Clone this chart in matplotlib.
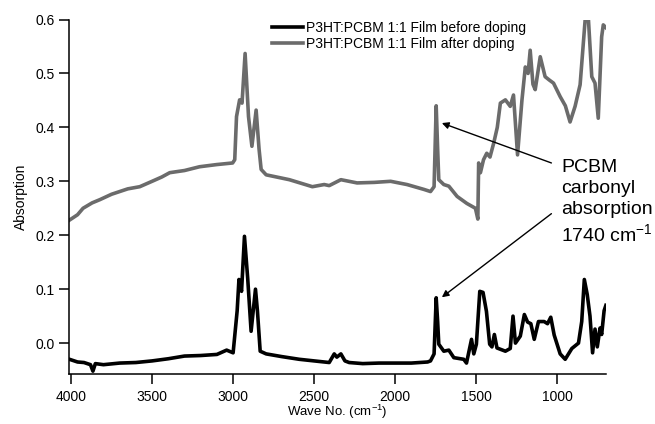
#Espectros IR de la película P3HT:PCBM antes y después del dopado
import matplotlib
matplotlib.use("Agg")
import matplotlib.pyplot as plt
from matplotlib.ticker import FormatStrFormatter

plt.rcParams['font.family'] = ['Liberation Sans', 'DejaVu Sans']
plt.rcParams['mathtext.fontset'] = 'custom'
plt.rcParams['mathtext.rm'] = 'Liberation Sans'
plt.rcParams['mathtext.it'] = 'Liberation Sans:italic'

#película antes del dopado (número de onda, absorción)
wn_before = [4010, 3960, 3920, 3880, 3865, 3850, 3800, 3700, 3600, 3500, 3400, 3300,
             3200, 3100, 3040, 3000, 2975, 2964, 2948, 2930, 2910, 2889, 2862, 2850,
             2833, 2796, 2700, 2592, 2500, 2407, 2376, 2360, 2335, 2310, 2284, 2200,
             2100, 2000, 1900, 1800, 1782, 1760, 1747, 1738, 1731, 1700, 1669, 1638,
             1577, 1560, 1529, 1515, 1499, 1478, 1458, 1437, 1417, 1403, 1388, 1372,
             1320, 1290, 1273, 1258, 1228, 1203, 1183, 1163, 1142, 1116, 1081, 1060,
             1040, 1019, 982, 951, 910, 869, 849, 833, 815, 798, 782, 767, 753, 736,
             726, 711, 700]
ab_before = [-0.030, -0.035, -0.036, -0.040, -0.052, -0.038, -0.040, -0.037, -0.036, -0.033, -0.029, -0.024,
             -0.023, -0.021, -0.013, -0.018, 0.060, 0.118, 0.096, 0.198, 0.120, 0.022, 0.100, 0.060,
             -0.015, -0.020, -0.025, -0.030, -0.033, -0.036, -0.020, -0.026, -0.020, -0.033, -0.036, -0.038,
             -0.037, -0.037, -0.037, -0.035, -0.033, -0.020, 0.084, 0.040, -0.002, -0.015, -0.013, -0.027,
             -0.030, -0.037, 0.007, -0.020, -0.002, 0.096, 0.094, 0.059, -0.002, -0.007, 0.016, -0.009,
             -0.015, -0.010, 0.050, 0.000, 0.013, 0.053, 0.039, 0.036, 0.007, 0.040, 0.040, 0.036,
             0.048, 0.015, -0.020, -0.030, -0.010, 0.000, 0.040, 0.118, 0.090, 0.050, -0.018, 0.026, -0.007, 0.028,
             0.016, 0.060, 0.070]

#película después del dopado
wn_after = [4010, 3960, 3926, 3870, 3822, 3750, 3650, 3576, 3500, 3440, 3391, 3300,
            3207, 3102, 3003, 2990, 2979, 2960, 2945, 2926, 2905, 2884, 2858, 2840,
            2827, 2796, 2653, 2511, 2438, 2407, 2335, 2235, 2128, 2028, 1927, 1823,
            1782, 1760, 1747, 1738, 1731, 1700, 1669, 1618, 1558, 1505, 1490, 1485,
            1474, 1455, 1435, 1415, 1392, 1370, 1351, 1320, 1290, 1270, 1245, 1218, 1197, 1180, 1167, 1150, 1136,
            1105, 1075, 1050, 1023, 982, 950, 921, 890, 859, 828, 808, 787, 767, 747, 726, 716, 700]
ab_after = [0.228, 0.238, 0.250, 0.260, 0.266, 0.276, 0.286, 0.290, 0.300, 0.308, 0.316, 0.320,
            0.327, 0.331, 0.334, 0.340, 0.420, 0.451, 0.445, 0.537, 0.420, 0.365, 0.432, 0.360,
            0.322, 0.312, 0.303, 0.290, 0.294, 0.292, 0.303, 0.297, 0.298, 0.300, 0.294, 0.285,
            0.281, 0.290, 0.440, 0.360, 0.303, 0.294, 0.291, 0.272, 0.259, 0.250, 0.230, 0.334,
            0.316, 0.340, 0.352, 0.345, 0.371, 0.400, 0.445, 0.451, 0.439, 0.460, 0.349, 0.450, 0.512, 0.500, 0.543, 0.480, 0.470,
            0.531, 0.494, 0.488, 0.482, 0.457, 0.440, 0.410, 0.439, 0.479, 0.599, 0.602, 0.494, 0.482, 0.417, 0.568, 0.590, 0.585]

labels = ["P3HT:PCBM 1:1 Film before doping", "P3HT:PCBM 1:1 Film after doping"]
xticks = [4000, 3500, 3000, 2500, 2000, 1500, 1000]
yticks = [0.0, 0.1, 0.2, 0.3, 0.4, 0.5, 0.6]

fig = plt.figure(figsize=(6.55, 4.24), dpi=100)
ax = fig.add_axes([0.105, 0.117, 0.82, 0.837])

ax.plot(wn_before, ab_before, color='black', lw=2.6, label=labels[0])
ax.plot(wn_after, ab_after, color='#6b6b6b', lw=2.6, label=labels[1])

ax.set_xlim(4014, 700)
ax.set_ylim(-0.058, 0.6)
ax.set_xticks(xticks)
ax.set_yticks(yticks)
ax.yaxis.set_major_formatter(FormatStrFormatter('%.1f'))
ax.tick_params(direction='out', length=7.2, width=1.1, labelsize=10)
ax.tick_params(axis='x', pad=4)
ax.tick_params(axis='y', pad=3)
for s in ['top', 'right']:
    ax.spines[s].set_visible(False)
for s in ['left', 'bottom']:
    ax.spines[s].set_linewidth(1.1)

ax.set_xlabel(r'Wave No. (cm$^{\mathregular{-1}}$)', fontsize=9.5, labelpad=-1)
ax.set_ylabel('Absorption', fontsize=10, labelpad=5)

ax.legend(loc='upper left', bbox_to_anchor=(0.366, 1.015), frameon=False, fontsize=10,
          handlelength=2.2, handletextpad=0.25, borderpad=0, labelspacing=0.15)

#flechas hacia el pico del carbonilo
flecha = dict(arrowstyle='-|>', color='black', lw=1.0, mutation_scale=10, shrinkA=0, shrinkB=0)
ax.annotate('', xy=(1712, 0.408), xytext=(1036, 0.334), arrowprops=flecha)
ax.annotate('', xy=(1712, 0.085), xytext=(1036, 0.240), arrowprops=flecha)
ax.text(974, 0.262, 'PCBM\ncarbonyl\nabsorption\n1740 cm$^{\\mathregular{-1}}$', fontsize=14,
        ha='left', va='center', linespacing=1.3)

fig.savefig('out.png', dpi=100)
